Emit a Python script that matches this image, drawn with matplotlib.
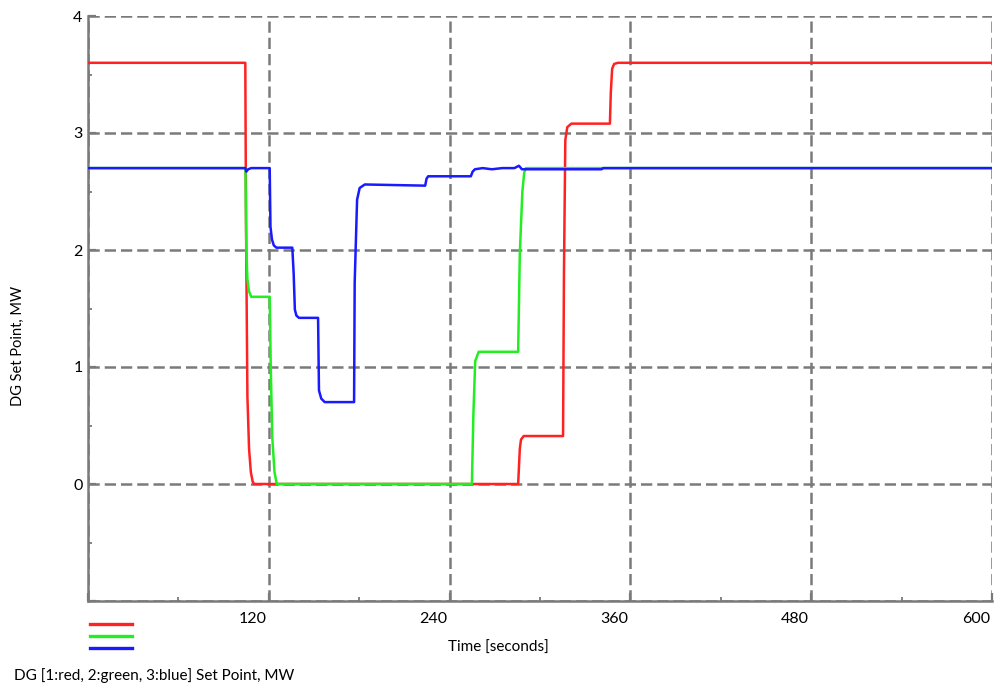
import matplotlib.pyplot as plt
import matplotlib.transforms as mtransforms
from matplotlib.lines import Line2D
from matplotlib.ticker import MultipleLocator

plt.rcParams['font.family'] = ['Lato', 'DejaVu Sans']

# DG 1 (red)
t_red = [0, 104.4, 104.9, 105.8, 106.9, 108.1, 109.3, 110.3, 285.5, 286.6, 287.4, 289.2,
         315.3, 315.9, 316.8, 318.1, 320.8, 346.4, 347.0, 347.9, 349.2, 351.7, 600]
v_red = [3.6, 3.6, 2.2, 0.75, 0.3, 0.1, 0.02, 0.0, 0.0, 0.3, 0.38, 0.41,
         0.41, 1.8, 2.94, 3.05, 3.08, 3.08, 3.35, 3.55, 3.59, 3.6, 3.6]

# DG 2 (green)
t_green = [0, 104.5, 105.1, 105.8, 106.8, 108.3, 120.6, 121.3, 122.3, 123.8, 125.3,
           254.8, 255.8, 257.0, 259.3, 285.5, 286.6, 288.3, 289.5, 290.6, 600]
v_green = [2.7, 2.7, 2.0, 1.75, 1.65, 1.6, 1.6, 1.0, 0.4, 0.1, 0.0,
           0.0, 0.6, 1.05, 1.13, 1.13, 1.97, 2.5, 2.66, 2.7, 2.7]

# DG 3 (blue)
t_blue = [0, 104.4, 105.1, 106.3, 108.3, 120.6, 121.1, 122.1, 123.3, 125.0, 135.6, 136.5,
          137.3, 138.3, 140.0, 152.7, 153.3, 154.8, 157.1, 176.6, 177.0, 178.6, 180.3,
          183.7, 223.8, 224.7, 225.8, 254.1, 255.3, 256.8, 262, 268, 275, 283, 286, 288,
          300, 340.8, 342.0, 600]
v_blue = [2.7, 2.7, 2.67, 2.69, 2.7, 2.7, 2.2, 2.09, 2.04, 2.02, 2.02, 1.8,
          1.49, 1.44, 1.42, 1.42, 0.8, 0.73, 0.7, 0.7, 1.72, 2.43, 2.53,
          2.56, 2.55, 2.61, 2.63, 2.63, 2.67, 2.69, 2.7, 2.69, 2.7, 2.7, 2.72, 2.69,
          2.69, 2.69, 2.7, 2.7]

x_ticks = [0, 120, 240, 360, 480, 600]
x_labels = ['', '120', '240', '360', '480', '600']
y_ticks = [-1, 0, 1, 2, 3, 4]
y_labels = ['', '0', '1', '2', '3', '4']

grey = '#7a7a7a'

fig = plt.figure(figsize=(10.02, 6.89), dpi=100)
ax = fig.add_axes([88 / 1002, 1 - 601 / 689, 904 / 1002, 585 / 689])

ax.plot(t_red, v_red, color='#ff2222', lw=1.8, zorder=3)
ax.plot(t_green, v_green, color='#22ee22', lw=1.8, zorder=4)
ax.plot(t_blue, v_blue, color='#1a1aff', lw=1.8, zorder=5)

ax.set_xlim(0, 600)
ax.set_ylim(-1, 4)
ax.set_xticks(x_ticks)
ax.set_xticklabels(x_labels)
ax.set_yticks(y_ticks)
ax.set_yticklabels(y_labels)
ax.xaxis.set_minor_locator(MultipleLocator(60))
ax.yaxis.set_minor_locator(MultipleLocator(0.5))
ax.tick_params(which='major', direction='in', length=6, width=1.6, color=grey,
               labelsize=11.5)
ax.tick_params(axis='x', which='major', pad=8)
ax.tick_params(axis='y', which='major', pad=4)
ax.tick_params(which='minor', direction='in', length=3, width=1.3, color=grey)

# x tick labels sit a bit to the left of their ticks
offset = mtransforms.ScaledTranslation(-16 / 100, 0, fig.dpi_scale_trans)
for lab in ax.get_xticklabels():
    lab.set_transform(lab.get_transform() + offset)

ax.grid(True, which='major', color=grey, lw=1.8, linestyle=(0, (4.5, 2)), zorder=1)
ax.set_axisbelow(True)

for side in ['top', 'right']:
    ax.spines[side].set_visible(False)
for side in ['left', 'bottom']:
    ax.spines[side].set_color(grey)
    ax.spines[side].set_linewidth(1.8)

fig.text(498 / 1002, 1 - 648 / 689, 'Time [seconds]', ha='center', va='center', fontsize=11)
fig.text(18 / 1002, 1 - 346 / 689, 'DG Set Point, MW', rotation=90, ha='center',
         va='center', fontsize=10.5)

# legend swatches below the axis
for ypx, c in zip([624, 636, 648], ['#ff2222', '#22ee22', '#1a1aff']):
    fig.add_artist(Line2D([90 / 1002, 132 / 1002], [1 - ypx / 689, 1 - ypx / 689],
                          color=c, lw=2.4, transform=fig.transFigure))
fig.text(14 / 1002, 1 - 676 / 689, 'DG [1:red, 2:green, 3:blue] Set Point, MW',
         ha='left', va='center', fontsize=11)

fig.savefig('out.png', dpi=100)
